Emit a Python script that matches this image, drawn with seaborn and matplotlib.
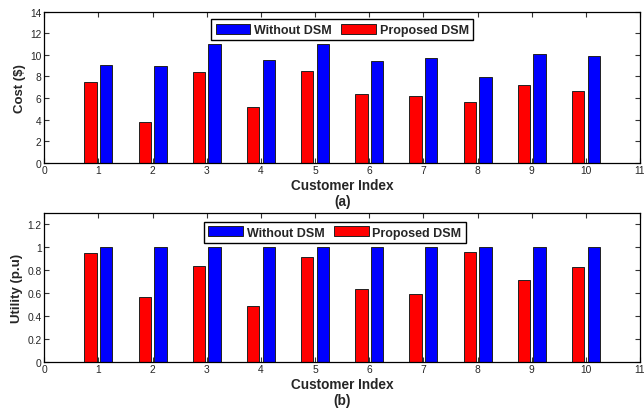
import numpy as np
import pandas as pd
import matplotlib
matplotlib.use("Agg")
import matplotlib.pyplot as plt
from matplotlib.patches import Patch
from matplotlib.ticker import FuncFormatter
import seaborn as sns

# Customer indices and per-customer results
customers = [1, 2, 3, 4, 5, 6, 7, 8, 9, 10]
cost_without = [9.1, 9.0, 11.0, 9.5, 11.0, 9.4, 9.7, 7.95, 10.1, 9.9]
cost_proposed = [7.5, 3.8, 8.4, 5.2, 8.5, 6.4, 6.2, 5.6, 7.2, 6.65]
utility_without = [1.0, 1.0, 1.0, 1.0, 1.0, 1.0, 1.0, 1.0, 1.0, 1.0]
utility_proposed = [0.95, 0.565, 0.835, 0.485, 0.915, 0.635, 0.59, 0.955, 0.71, 0.825]

series_names = ["Without DSM", "Proposed DSM"]
colors = {"Without DSM": "#0000ff", "Proposed DSM": "#ff0000"}

sns.set_style("ticks", {
    "xtick.direction": "in", "ytick.direction": "in",
    "axes.edgecolor": "black",
})
plt.rcParams["font.family"] = ["Liberation Sans", "DejaVu Sans"]
plt.rcParams["axes.linewidth"] = 0.9


def long_frame(without, proposed):
    return pd.DataFrame({
        "customer": customers * 2,
        "value": list(without) + list(proposed),
        "series": ["Without DSM"] * len(customers) + ["Proposed DSM"] * len(customers),
    })


fig = plt.figure(figsize=(6.44, 4.10), dpi=100)
ax_top = fig.add_axes([0.0688, 0.6007, 0.925, 0.368])
ax_bot = fig.add_axes([0.0688, 0.1154, 0.925, 0.3627])

panels = [
    (ax_top, long_frame(cost_without, cost_proposed), "Cost ($)",
     (0, 14), np.arange(0, 15, 2), "(a)", (0.5, 0.95)),
    (ax_bot, long_frame(utility_without, utility_proposed), "Utility (p.u)",
     (0, 1.3), np.arange(0, 1.21, 0.2), "(b)", (0.488, 0.94)),
]

for ax, df, ylabel, ylim, yticks, tag, legpos in panels:
    sns.barplot(data=df, x="customer", y="value", hue="series",
                hue_order=["Proposed DSM", "Without DSM"], palette=colors,
                saturation=1, native_scale=True, width=0.58, gap=0.22,
                dodge=True, edgecolor="#222222", linewidth=0.7, errorbar=None,
                legend=False, ax=ax)
    ax.set_xlim(0, 11)
    ax.set_xticks(range(0, 12))
    ax.set_xticklabels([str(i) for i in range(0, 12)])
    ax.set_ylim(*ylim)
    ax.set_yticks(yticks)
    ax.yaxis.set_major_formatter(FuncFormatter(lambda v, p: f"{v:g}"))
    ax.tick_params(axis="both", which="both", direction="in", top=True, right=True,
                   length=3.5, width=0.8, color="#333333", labelsize=7.4, pad=2)
    for s in ax.spines.values():
        s.set_visible(True)
        s.set_color("black")
        s.set_linewidth(0.9)
    ax.set_xlabel("Customer Index", fontsize=9.8, fontweight="bold", labelpad=2)
    ax.set_ylabel(ylabel, fontsize=9.5, fontweight="bold", labelpad=3)
    ax.annotate(tag, xy=(0.5, 0), xycoords="axes fraction", xytext=(0, -22.5),
                textcoords="offset points", ha="center", va="top",
                fontsize=9.8, fontweight="bold")
    handles = [Patch(facecolor=colors[n], edgecolor="#222222", linewidth=0.7)
               for n in series_names]
    leg = ax.legend(handles, series_names, loc="upper center", bbox_to_anchor=legpos,
                    ncol=2, frameon=True, fancybox=False, edgecolor="black",
                    framealpha=1, prop={"weight": "bold", "size": 9},
                    handlelength=2.75, handleheight=0.85, handletextpad=0.3,
                    columnspacing=0.8, borderpad=0.35, borderaxespad=0)
    leg.get_frame().set_linewidth(1.0)

fig.savefig("out.png", dpi=100)
